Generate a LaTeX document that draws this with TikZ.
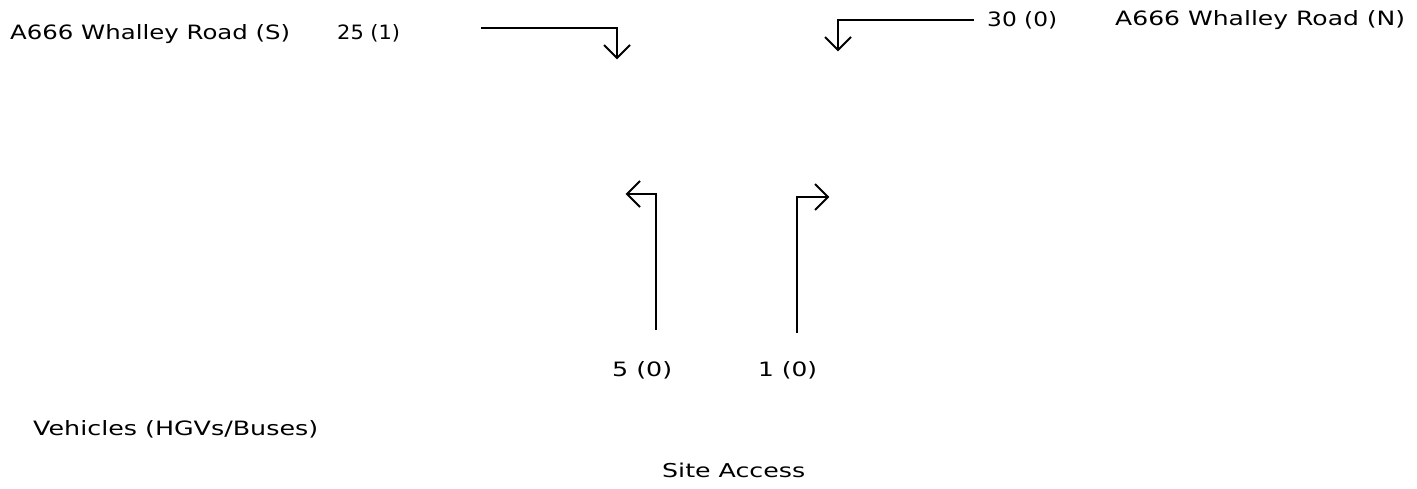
\documentclass[tikz,border=0pt]{standalone}
\usepackage{fontspec}
\setmainfont{DejaVu Sans}
\usepackage{graphicx}
\newcommand{\fw}[3]{\resizebox{#1pt}{#2pt}{#3}}
\tikzset{
  lbl/.style={anchor=base west, inner sep=0pt, font=\fontsize{20}{24}\selectfont},
  flow/.style={line width=1.8pt, line join=miter, black},
}
\begin{document}
\begin{tikzpicture}[x=1pt,y=-1pt]
\useasboundingbox (0,0) rectangle (1417,488);
% labels
\node[lbl] (sroad) at (10,39) {\fw{280}{15}{A666 Whalley Road (S)}};
\node[lbl] (sval) at (337,39) {\fw{63}{15}{25 (1)}};
\node[lbl] (nval) at (987,26) {\fw{70}{15}{30 (0)}};
\node[lbl] (nroad) at (1115,25) {\fw{290}{15}{A666 Whalley Road (N)}};
\node[lbl] (lval) at (612,376) {\fw{60}{15}{5 (0)}};
\node[lbl] (rval) at (758,376) {\fw{59}{15}{1 (0)}};
\node[lbl] (veh) at (33,435) {\fw{285}{15}{Vehicles (HGVs/Buses)}};
\node[lbl] (site) at (662,477) {\fw{143}{14.5}{Site Access}};
% arrow from S, turning into site
\coordinate (a1s) at (481,28);
\coordinate (a1c) at (617,28);
\coordinate (a1t) at (617,58);
\draw[flow] (a1s) -- (a1c) -- (a1t);
\draw[flow] (604,45) -- (a1t) -- (630,45);
% arrow from N, turning into site
\coordinate (a2s) at (974,20);
\coordinate (a2c) at (838,20);
\coordinate (a2t) at (838,50);
\draw[flow] (a2s) -- (a2c) -- (a2t);
\draw[flow] (825,37) -- (a2t) -- (851,37);
% left out of site
\coordinate (a3s) at (656,330);
\coordinate (a3c) at (656,194);
\coordinate (a3t) at (627,194);
\draw[flow] (a3s) -- (a3c) -- (a3t);
\draw[flow] (640,181) -- (a3t) -- (640,207);
% right out of site
\coordinate (a4s) at (797,333);
\coordinate (a4c) at (797,197);
\coordinate (a4t) at (828,197);
\draw[flow] (a4s) -- (a4c) -- (a4t);
\draw[flow] (815,184) -- (a4t) -- (815,210);
\end{tikzpicture}
\end{document}
